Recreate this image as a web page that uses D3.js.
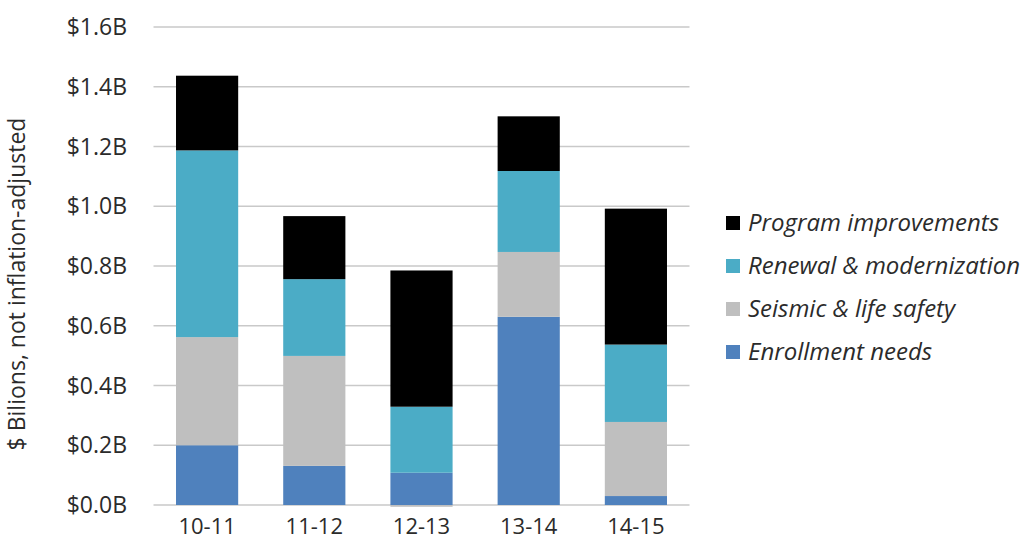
<!DOCTYPE html>
<html><head><meta charset="utf-8">
<script src="https://cdn.jsdelivr.net/npm/d3@7"></script>
<style>body{margin:0;background:#fff;}svg{display:block;font-family:"Open Sans","Liberation Sans",sans-serif;}</style>
</head><body><svg id="c" width="1030" height="540"></svg>
<script>
const categories = ["10-11","11-12","12-13","13-14","14-15"];
const seriesNames = ["Enrollment needs","Seismic & life safety","Renewal & modernization","Program improvements"];
const enrollment = [0.200, 0.131, 0.108, 0.630, 0.030];
const seismic = [0.362, 0.368, -0.006, 0.217, 0.248];
const renewal = [0.625, 0.257, 0.221, 0.271, 0.259];
const program = [0.250, 0.211, 0.456, 0.183, 0.455];
const yTicks = [0,0.2,0.4,0.6,0.8,1.0,1.2,1.4,1.6];
const colors = ["#4F81BD","#BFBFBF","#4BACC6","#000000"];

(function(){
const svg = d3.select("#c");
const mLeft = 153.5, mRight = 689.5, mTop = 27, mBottom = 505;
const x = d3.scaleBand().domain(categories).range([mLeft,mRight]).paddingInner(0.42).paddingOuter(0.21);
const y = d3.scaleLinear().domain([0,1.6]).range([mBottom,mTop]);

const rows = categories.map((c,i)=>({cat:c, e:enrollment[i], s:seismic[i], r:renewal[i], p:program[i]}));
const stack = d3.stack().keys(["e","s","r","p"]).offset(d3.stackOffsetDiverging)(rows);

svg.append("g").selectAll("line").data(yTicks).join("line")
  .attr("x1",mLeft).attr("x2",mRight).attr("y1",d=>y(d)).attr("y2",d=>y(d))
  .attr("stroke","#C9C9C9").attr("stroke-width",1.5);

svg.append("g").selectAll("text").data(yTicks).join("text")
  .attr("x",127).attr("y",d=>y(d)).attr("dy","0.35em").attr("text-anchor","end")
  .attr("font-size",23).attr("fill","#2b2b2b").text(d=>"$"+d.toFixed(1)+"B");

svg.append("g").selectAll("g").data(stack).join("g").attr("fill",(d,i)=>colors[i])
  .selectAll("rect").data(d=>d).join("rect")
  .attr("x",d=>x(d.data.cat)).attr("width",x.bandwidth())
  .attr("y",d=>y(Math.max(d[0],d[1]))).attr("height",d=>Math.abs(y(d[0])-y(d[1])));

svg.append("g").selectAll("text").data(categories).join("text")
  .attr("x",d=>x(d)+x.bandwidth()/2).attr("y",534).attr("text-anchor","middle")
  .attr("font-size",22).attr("fill","#2b2b2b").text(d=>d);

svg.append("text").attr("transform","translate(17,284) rotate(-90)").attr("text-anchor","middle")
  .attr("dy","0.35em").attr("font-size",23).attr("fill","#2b2b2b").text("$ Bilions, not inflation-adjusted");

const legendOrder = [3,2,1,0];
const lg = svg.append("g").selectAll("g").data(legendOrder).join("g")
  .attr("transform",(d,i)=>`translate(726,${223+i*43})`);
lg.append("rect").attr("x",0).attr("y",-7).attr("width",14).attr("height",14).attr("fill",d=>colors[d]);
lg.append("text").attr("x",22).attr("dy","0.35em").attr("font-size",24).attr("font-style","italic")
  .attr("fill","#2b2b2b").text(d=>seriesNames[d]);
})();
</script></body></html>
